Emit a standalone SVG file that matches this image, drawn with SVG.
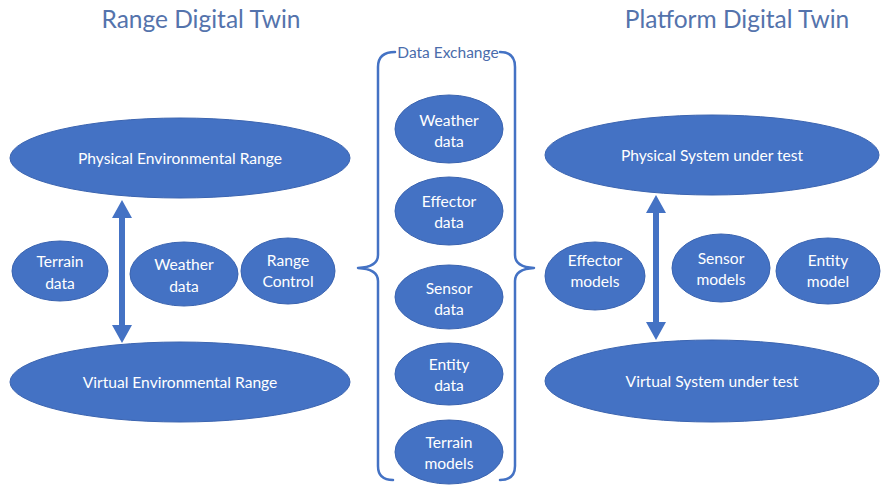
<svg xmlns="http://www.w3.org/2000/svg" width="881" height="487" viewBox="0 0 881 487">
<style>
  .n { fill: #4472C4; stroke: #3B64B0; stroke-width: 1; }
  .t { font-family: Lato, "Liberation Sans", sans-serif; font-size: 15.6px; fill: #FFFFFF; text-anchor: middle; }
  .title { font-family: Lato, "Liberation Sans", sans-serif; font-size: 24.5px; fill: #5473AC; text-anchor: middle; }
  .brace { fill: none; stroke: #4472C4; stroke-width: 2.5; stroke-linecap: round; stroke-linejoin: round; }
  .arrow { fill: #4472C4; }
  .bl { font-family: Lato, "Liberation Sans", sans-serif; font-size: 15.5px; fill: #4A6CAB; text-anchor: middle; }
</style>
<rect width="881" height="487" fill="#FFFFFF"/>

<text class="title" x="201" y="28">Range Digital Twin</text>
<text class="title" x="737" y="28">Platform Digital Twin</text>

<g id="connectors">
  <path class="brace" d="M395 52 Q378 52 378 67 L378 255 Q378 267 358 268 Q378 269 378 281 L378 466 Q378 480 393 480"/>
  <path class="brace" d="M500 52 Q515 52 515 67 L515 255 Q515 267 534 268 Q515 269 515 281 L515 466 Q515 480 500 480"/>
  <polygon class="arrow" points="122,200 132,218 125,218 125,325 132,325 122,343 112,325 119,325 119,218 112,218"/>
  <polygon class="arrow" points="656,195 666,213 659,213 659,322 666,322 656,340 646,322 653,322 653,213 646,213"/>
</g>
<text class="bl" x="448" y="58">Data Exchange</text>

<g id="physical-env-range">
  <ellipse class="n" cx="180" cy="158" rx="170" ry="40"/>
  <text class="t" x="180" y="164">Physical Environmental Range</text>
</g>
<g id="virtual-env-range">
  <ellipse class="n" cx="180" cy="382" rx="170" ry="40"/>
  <text class="t" x="180" y="388">Virtual Environmental Range</text>
</g>
<g id="terrain-data-left">
  <ellipse class="n" cx="60" cy="271" rx="48" ry="30"/>
  <text class="t" x="60" y="267">Terrain</text>
  <text class="t" x="60" y="289">data</text>
</g>
<g id="weather-data-left">
  <ellipse class="n" cx="184" cy="274" rx="54" ry="32"/>
  <text class="t" x="184" y="270">Weather</text>
  <text class="t" x="184" y="292">data</text>
</g>
<g id="range-control">
  <ellipse class="n" cx="288" cy="271" rx="47" ry="33"/>
  <text class="t" x="288" y="266">Range</text>
  <text class="t" x="288" y="287">Control</text>
</g>

<g id="weather-data">
  <ellipse class="n" cx="449" cy="129" rx="54" ry="34"/>
  <text class="t" x="449" y="126">Weather</text>
  <text class="t" x="449" y="147">data</text>
</g>
<g id="effector-data">
  <ellipse class="n" cx="449" cy="211" rx="54" ry="34"/>
  <text class="t" x="449" y="207">Effector</text>
  <text class="t" x="449" y="228">data</text>
</g>
<g id="sensor-data">
  <ellipse class="n" cx="449" cy="297" rx="54" ry="32"/>
  <text class="t" x="449" y="294">Sensor</text>
  <text class="t" x="449" y="315">data</text>
</g>
<g id="entity-data">
  <ellipse class="n" cx="449" cy="374" rx="54" ry="31"/>
  <text class="t" x="449" y="370">Entity</text>
  <text class="t" x="449" y="391">data</text>
</g>
<g id="terrain-models">
  <ellipse class="n" cx="449" cy="452" rx="54" ry="32"/>
  <text class="t" x="449" y="448">Terrain</text>
  <text class="t" x="449" y="469">models</text>
</g>

<g id="physical-sut">
  <ellipse class="n" cx="712" cy="155" rx="167" ry="40"/>
  <text class="t" x="712" y="161">Physical System under test</text>
</g>
<g id="virtual-sut">
  <ellipse class="n" cx="712" cy="381" rx="167" ry="41"/>
  <text class="t" x="712" y="387">Virtual System under test</text>
</g>
<g id="effector-models">
  <ellipse class="n" cx="595" cy="276" rx="50" ry="34"/>
  <text class="t" x="595" y="266">Effector</text>
  <text class="t" x="595" y="287">models</text>
</g>
<g id="sensor-models">
  <ellipse class="n" cx="721" cy="268" rx="49" ry="34"/>
  <text class="t" x="721" y="264">Sensor</text>
  <text class="t" x="721" y="285">models</text>
</g>
<g id="entity-model">
  <ellipse class="n" cx="828" cy="271" rx="52" ry="33"/>
  <text class="t" x="828" y="266">Entity</text>
  <text class="t" x="828" y="287">model</text>
</g>
</svg>
